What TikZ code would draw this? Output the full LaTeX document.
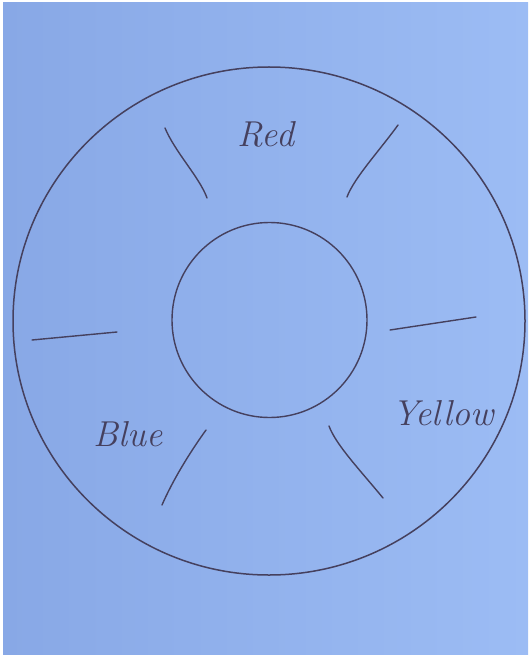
\documentclass[tikz,border=0pt]{standalone}
\usetikzlibrary{positioning}
\definecolor{paperL}{HTML}{88A8E6}
\definecolor{paperR}{HTML}{9CBCF4}
\definecolor{ink}{HTML}{45405E}
\tikzset{
  pen/.style={draw=ink, line width=1.5pt, line cap=round, line join=round},
  tick/.style={pen, line width=1.4pt},
  word/.style={text=ink, font=\itshape\fontsize{36}{36}\selectfont, inner sep=0pt}
}
\begin{document}
\begin{tikzpicture}[x=1pt,y=-1pt]
\useasboundingbox (0,0) rectangle (528,655);
\fill[white] (0,0) rectangle (528,655);
\shade[left color=paperL, right color=paperR] (3,3) rectangle (528,655);
% outer and inner circles
\draw[pen] (269,321) ellipse [x radius=256, y radius=254];
\draw[pen, line width=1.4pt] (269.5,320) circle [radius=97.5];
% ticks
\draw[tick] (165,128) .. controls (175,152) and (200,178) .. (207,198);
\draw[tick] (398,125) .. controls (380,150) and (354,178) .. (347,197);
\draw[tick] (32,340) -- (117,332);
\draw[tick] (390,330) -- (476,317);
\draw[tick] (206,430) .. controls (188,455) and (172,482) .. (162,505);
\draw[tick] (329,426) .. controls (336,445) and (360,470) .. (383,498);
% labels
\node[word] (red) at (266,134) {Red};
\node[word] (yellow) at (443,413) {Yellow};
\node[word] (blue) at (128,434) {Blue};
\end{tikzpicture}
\end{document}
